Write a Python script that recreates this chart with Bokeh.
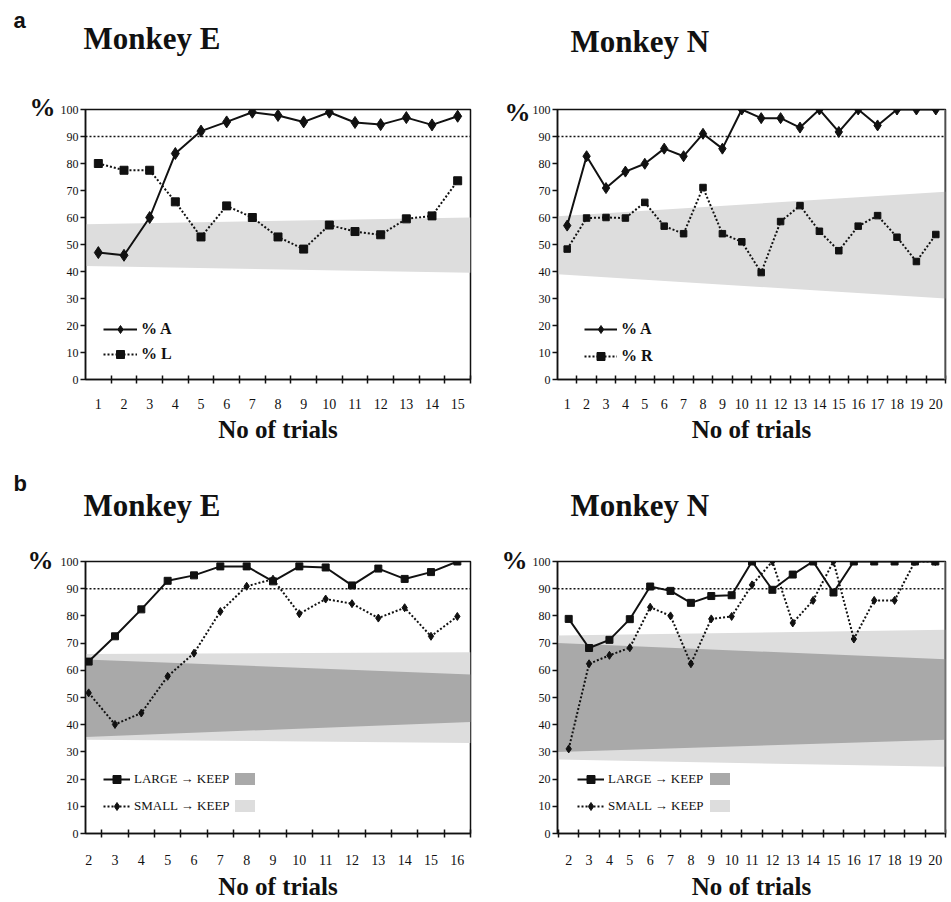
from bokeh.plotting import figure
from bokeh.models import Range1d, FixedTicker, Span, Label, Legend, LegendItem
from bokeh.layouts import column, row
from bokeh.embed import file_html
from bokeh.resources import INLINE

# ---------------- data ----------------
# Panel a, Monkey E
a_e_trials = list(range(1, 16))
a_e_pct_A = [47, 46, 60, 83.7, 92, 95.4, 99, 97.8, 95.4, 99, 95.2, 94.4, 97, 94.3, 97.5]
a_e_pct_L = [80, 77.5, 77.5, 65.8, 52.8, 64.3, 60, 52.8, 48.3, 57.2, 54.8, 53.6, 59.5, 60.6, 73.6]
a_e_band_lo = [42, 39.5]
a_e_band_hi = [57.5, 60]

# Panel a, Monkey N
a_n_trials = list(range(1, 21))
a_n_pct_A = [57, 82.7, 70.9, 77, 79.9, 85.5, 82.7, 91, 85.5, 100, 96.8, 96.8, 93.3, 100,
             91.7, 100, 94.1, 100, 100, 100]
a_n_pct_R = [48.3, 59.8, 60, 59.8, 65.6, 56.8, 54, 71.1, 54, 51, 39.6, 58.5, 64.4, 54.9,
             47.7, 56.8, 60.7, 52.7, 43.7, 53.7]
a_n_band_lo = [39, 30]
a_n_band_hi = [60.5, 69.5]

# Panel b, Monkey E
b_e_trials = list(range(2, 17))
b_e_large = [63.2, 72.5, 82.4, 92.9, 94.9, 98.2, 98.2, 92.7, 98.2, 97.8, 91.2, 97.4, 93.6, 96.1, 100]
b_e_small = [51.7, 40.1, 44.3, 57.8, 66.3, 81.6, 90.9, 93.5, 80.8, 86.2, 84.5, 79.2, 83, 72.5, 79.8]
b_e_large_band_lo = [35.5, 41]
b_e_large_band_hi = [64, 58.5]
b_e_small_band_lo = [34.5, 33.3]
b_e_small_band_hi = [66, 66.6]

# Panel b, Monkey N
b_n_trials = list(range(2, 21))
b_n_large = [78.9, 68.2, 71.2, 78.8, 90.8, 89.2, 84.8, 87.3, 87.6, 100, 89.6, 95.2, 100,
             88.6, 100, 100, 100, 100, 100]
b_n_small = [31.1, 62.4, 65.5, 68.3, 83.2, 80, 62.4, 78.9, 79.8, 91.4, 100, 77.4, 85.7,
             100, 71.5, 85.7, 85.7, 100, 100]
b_n_large_band_lo = [30, 34.5]
b_n_large_band_hi = [70, 64.1]
b_n_small_band_lo = [27.2, 24.5]
b_n_small_band_hi = [72.8, 74.9]

criterion = 90
y_ticks = list(range(0, 101, 10))

SERIF = "Liberation Serif"
BLACK = "#111111"
LIGHT = "#dddddd"
DARK = "#a9a9a9"


def base_fig(width, height, bl, br, bt, bb, xr, trials, lbl_standoff, al_standoff):
    p = figure(width=width, height=height, output_backend="svg", toolbar_location=None,
               x_range=Range1d(*xr), y_range=Range1d(0, 100),
               min_border_left=bl, min_border_right=br, min_border_top=bt, min_border_bottom=bb)
    p.xgrid.visible = False
    p.ygrid.visible = False
    p.background_fill_color = "white"
    p.border_fill_color = "white"
    p.outline_line_color = BLACK
    p.outline_line_width = 1.5

    halves = [t - 0.5 for t in trials] + [trials[-1] + 0.5]
    halves = [h for h in halves if xr[0] < h <= xr[1] + 0.01]
    p.xaxis.ticker = FixedTicker(ticks=trials, minor_ticks=halves)
    p.xaxis.major_tick_in = 0
    p.xaxis.major_tick_out = 0
    p.xaxis.minor_tick_in = 4
    p.xaxis.minor_tick_out = 4
    p.xaxis.minor_tick_line_color = BLACK
    p.xaxis.minor_tick_line_width = 1.5
    p.xaxis.axis_line_color = BLACK
    p.xaxis.axis_line_width = 1.5
    p.xaxis.major_label_text_font = SERIF
    p.xaxis.major_label_text_font_size = "14px"
    p.xaxis.major_label_text_color = BLACK
    p.xaxis.major_label_standoff = lbl_standoff
    p.xaxis.axis_label = "No of trials"
    p.xaxis.axis_label_text_font = SERIF
    p.xaxis.axis_label_text_font_style = "bold"
    p.xaxis.axis_label_text_font_size = "25px"
    p.xaxis.axis_label_text_color = BLACK
    p.xaxis.axis_label_standoff = al_standoff

    p.yaxis.ticker = FixedTicker(ticks=y_ticks)
    p.yaxis.minor_tick_line_color = None
    p.yaxis.major_tick_in = 0
    p.yaxis.major_tick_out = 5
    p.yaxis.major_tick_line_color = BLACK
    p.yaxis.major_tick_line_width = 1.5
    p.yaxis.axis_line_color = BLACK
    p.yaxis.axis_line_width = 1.5
    p.yaxis.major_label_text_font = SERIF
    p.yaxis.major_label_text_font_size = "12px"
    p.yaxis.major_label_text_color = BLACK
    p.yaxis.major_label_standoff = 2
    p.add_layout(Span(location=criterion, dimension="width", line_color=BLACK,
                      line_dash="2 2", line_width=1.5))
    return p


def add_texts(p, title, title_dx, title_dy, pct_dx, pct_dy, letter=None, letter_dy=0):
    xs = p.x_range.start
    p.add_layout(Label(x=xs, y=100, x_offset=title_dx, y_offset=title_dy, text=title,
                       text_font=SERIF, text_font_style="bold", text_font_size="31px",
                       text_color=BLACK, text_align="left", text_baseline="middle"), "above")
    p.add_layout(Label(x=xs, y=100, x_offset=pct_dx, y_offset=pct_dy, text="%",
                       text_font=SERIF, text_font_style="bold", text_font_size="26px",
                       text_color=BLACK, text_align="right", text_baseline="middle"), "above")
    if letter:
        p.add_layout(Label(x=xs, y=100, x_offset=-72, y_offset=letter_dy, text=letter,
                           text_font="Liberation Sans", text_font_style="bold",
                           text_font_size="22px", text_color=BLACK, text_align="left",
                           text_baseline="middle"), "above")


def right_edge(p):
    p.add_layout(Span(location=p.x_range.end, dimension="height", line_color="#8a8a8a",
                      line_width=3))


def line_legend(p, items, loc, gw, sp, size, bold):
    p.add_layout(Legend(items=items, location=loc, glyph_width=gw, glyph_height=20,
                        label_height=20, spacing=sp, padding=5, label_standoff=4,
                        label_text_font=SERIF, label_text_font_style="bold" if bold else "normal",
                        label_text_font_size=size, label_text_color=BLACK,
                        background_fill_alpha=0, border_line_alpha=0))


def swatch_legend(p, rends, loc):
    p.add_layout(Legend(items=[LegendItem(label=" ", renderers=[r]) for r in rends],
                        location=loc, glyph_width=25, glyph_height=15, label_height=15,
                        spacing=12, padding=5, label_standoff=0, label_text_font_size="8px",
                        background_fill_alpha=0, border_line_alpha=0))


# ---------------- panel a, Monkey E ----------------
xr1 = (0.5, 15.5)
p1 = base_fig(480, 445, 85, 10, 109, 66, xr1, a_e_trials, 15, 4)
p1.varea(x=[xr1[0], xr1[1]], y1=a_e_band_lo, y2=a_e_band_hi, fill_color=LIGHT)
r1a = p1.line(a_e_trials, a_e_pct_A, line_color=BLACK, line_width=2)
s1a = p1.scatter(a_e_trials, a_e_pct_A, marker="diamond", size=12, color=BLACK)
r1l = p1.line(a_e_trials, a_e_pct_L, line_color=BLACK, line_width=2, line_dash="2 2")
s1l = p1.scatter(a_e_trials, a_e_pct_L, marker="square", size=8, color=BLACK)
add_texts(p1, "Monkey E", -2, 71.5, -30, 2, "a", 89)
line_legend(p1, [LegendItem(label="% A", renderers=[r1a, s1a]),
                 LegendItem(label="% L", renderers=[r1l, s1l])], (13, 10), 34, 5, "16px", True)

# ---------------- panel a, Monkey N ----------------
xr2 = (0.5, 20.5)
p2 = base_fig(471, 445, 77, 6, 106, 66, xr2, a_n_trials, 15, 4)
p2.varea(x=[xr2[0], xr2[1]], y1=a_n_band_lo, y2=a_n_band_hi, fill_color=LIGHT)
r2a = p2.line(a_n_trials, a_n_pct_A, line_color=BLACK, line_width=2)
s2a = p2.scatter(a_n_trials, a_n_pct_A, marker="diamond", size=11, color=BLACK)
r2r = p2.line(a_n_trials, a_n_pct_R, line_color=BLACK, line_width=2, line_dash="2 2")
s2r = p2.scatter(a_n_trials, a_n_pct_R, marker="square", size=6.5, color=BLACK)
add_texts(p2, "Monkey N", 13, 68.5, -27, -3)
right_edge(p2)
line_legend(p2, [LegendItem(label="% A", renderers=[r2a, s2a]),
                 LegendItem(label="% R", renderers=[r2r, s2r])], (22, 8), 33, 7, "16px", True)

# ---------------- panel b, Monkey E ----------------
xr3 = (1.88, 16.5)
p3 = base_fig(480, 457, 85, 10, 116, 69, xr3, b_e_trials, 17, 5)
v3s = p3.varea(x=[xr3[0], xr3[1]], y1=b_e_small_band_lo, y2=b_e_small_band_hi, fill_color=LIGHT)
v3l = p3.varea(x=[xr3[0], xr3[1]], y1=b_e_large_band_lo, y2=b_e_large_band_hi, fill_color=DARK)
r3l = p3.line(b_e_trials, b_e_large, line_color=BLACK, line_width=2)
s3l = p3.scatter(b_e_trials, b_e_large, marker="square", size=7, color=BLACK)
r3s = p3.line(b_e_trials, b_e_small, line_color=BLACK, line_width=2, line_dash="2 2")
s3s = p3.scatter(b_e_trials, b_e_small, marker="diamond", size=8, color=BLACK)
add_texts(p3, "Monkey E", -2, 56, -32, 1, "b", 78)
line_legend(p3, [LegendItem(label="LARGE \u2192 KEEP", renderers=[r3l, s3l]),
                 LegendItem(label="SMALL \u2192 KEEP", renderers=[r3s, s3s])], (13, 12), 27, 7, "13px", False)
swatch_legend(p3, [v3l, v3s], (142, 15))

# ---------------- panel b, Monkey N ----------------
xr4 = (1.45, 20.5)
p4 = base_fig(471, 457, 77, 6, 116, 69, xr4, b_n_trials, 17, 5)
v4s = p4.varea(x=[xr4[0], xr4[1]], y1=b_n_small_band_lo, y2=b_n_small_band_hi, fill_color=LIGHT)
v4l = p4.varea(x=[xr4[0], xr4[1]], y1=b_n_large_band_lo, y2=b_n_large_band_hi, fill_color=DARK)
r4l = p4.line(b_n_trials, b_n_large, line_color=BLACK, line_width=2)
s4l = p4.scatter(b_n_trials, b_n_large, marker="square", size=7, color=BLACK)
r4s = p4.line(b_n_trials, b_n_small, line_color=BLACK, line_width=2, line_dash="2 2")
s4s = p4.scatter(b_n_trials, b_n_small, marker="diamond", size=8, color=BLACK)
add_texts(p4, "Monkey N", 13, 56, -30, 1)
right_edge(p4)
line_legend(p4, [LegendItem(label="LARGE \u2192 KEEP", renderers=[r4l, s4l]),
                 LegendItem(label="SMALL \u2192 KEEP", renderers=[r4s, s4s])], (15, 12), 27, 7, "13px", False)
swatch_legend(p4, [v4l, v4s], (145, 15))

layout = column(row(p1, p2), row(p3, p4))
open("out.html", "w").write(file_html(layout, INLINE, "Monkey E / Monkey N"))
